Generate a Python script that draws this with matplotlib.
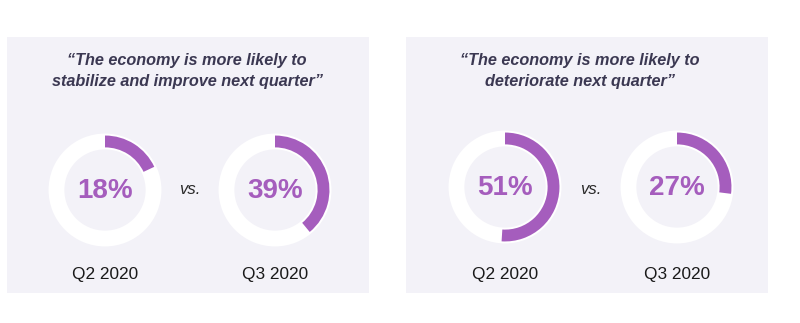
import matplotlib
matplotlib.use("Agg")
import matplotlib.pyplot as plt
from matplotlib.patches import Rectangle

plt.rcParams['font.family'] = ['Liberation Sans', 'DejaVu Sans']

titles = ["\u201cThe economy is more likely to\nstabilize and improve next quarter\u201d",
          "\u201cThe economy is more likely to\ndeteriorate next quarter\u201d"]
quarters = ["Q2 2020", "Q3 2020"]
values = [[18, 39], [51, 27]]

W, H = 800, 323
PURPLE = "#a55dbd"
BG = "#f3f2f8"
TITLE_C = "#3b3852"

fig = plt.figure(figsize=(W / 100, H / 100), dpi=100)
ax = fig.add_axes([0, 0, 1, 1])
ax.set_xlim(0, W)
ax.set_ylim(H, 0)
ax.axis("off")

panels = [(7, 369, 187), (406, 768, 580)]
donut_x = [[105, 275], [505, 677]]
donut_y = [190, 187]
R = 57

for p, (x0, x1, tcx) in enumerate(panels):
    ax.add_patch(Rectangle((x0, 37), x1 - x0, 256, facecolor=BG, edgecolor="none", zorder=0))
    ax.text(tcx, 71, titles[p], ha="center", va="center", fontsize=11.7,
            fontweight="bold", fontstyle="italic", color=TITLE_C, linespacing=1.55)
    for i in range(2):
        cx, cy = donut_x[p][i], donut_y[p]
        dax = fig.add_axes([(cx - R) / W, 1 - (cy + R) / H, 2 * R / W, 2 * R / H])
        dax.set_aspect("equal")
        dax.axis("off")
        dax.pie([100], radius=1.0, colors=["white"],
                wedgeprops=dict(width=0.28, edgecolor="none"))
        v = values[p][i]
        dax.pie([v, 100 - v], radius=0.965, startangle=90, counterclock=False,
                colors=[PURPLE, (0, 0, 0, 0)],
                wedgeprops=dict(width=0.21, edgecolor="none"))
        dax.set_xlim(-1.01, 1.01)
        dax.set_ylim(-1.01, 1.01)
        dax.text(0, -0.02, f"{v}%", ha="center", va="center", fontsize=20,
                 fontweight="bold", color=PURPLE)
        ax.text(cx, 275, quarters[i], ha="center", va="center", fontsize=12.4, color="#1a1a1a")
    ax.text((donut_x[p][0] + donut_x[p][1]) / 2, 190, "vs.", ha="center", va="center",
            fontsize=12, fontstyle="italic", color="#2a2a2a")

fig.savefig("out.png", dpi=100, facecolor="white")
